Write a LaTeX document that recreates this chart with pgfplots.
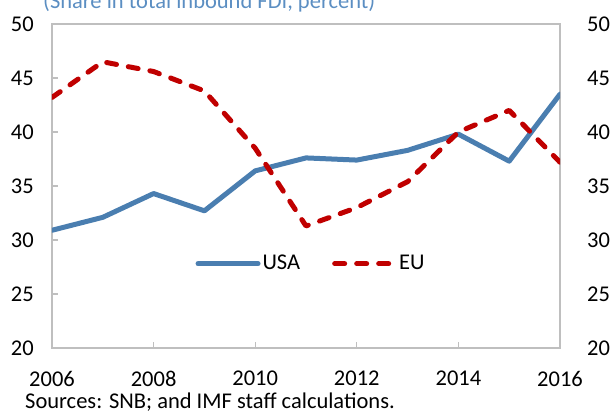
\documentclass[border=0pt]{standalone}
\usepackage{fontspec}
\setmainfont{Carlito}
\usepackage{pgfplots}
\pgfplotsset{compat=1.18}
\definecolor{usab}{HTML}{4A7EB0}
\definecolor{eur}{HTML}{C00000}
\definecolor{axg}{HTML}{BFBFBF}
\definecolor{ttl}{HTML}{5B8EC2}
\newcommand{\fs}{\fontsize{22.5pt}{27pt}\selectfont}
\begin{document}
\fs
\begin{tikzpicture}[x=1pt,y=1pt]
\useasboundingbox (-52,-66) rectangle (559,348);
\begin{axis}[
  scale only axis, width=508pt, height=324pt,
  xmin=2006, xmax=2016, ymin=20, ymax=50,
  xtick={2006,2008,...,2016}, ytick={20,25,...,50},
  tick pos=left, tick align=inside, major tick length=6pt,
  axis line style={axg, line width=1.5pt},
  every tick/.style={axg, line width=1.2pt},
  /pgf/number format/1000 sep={},
  /pgf/number format/assume math mode=true,
  ticklabel style={font=\fs, text=black},
  yticklabel style={anchor=east, inner sep=0pt, xshift=-18pt},
  xticklabel style={anchor=north, inner sep=0pt, yshift=-23pt},
  legend style={at={(0.51,0.26)}, anchor=center, draw=none, fill=none,
    font=\fs, legend columns=2,
    /tikz/every even column/.append style={column sep=30pt}},
  legend image code/.code={\draw[#1] (0pt,0pt) -- (60pt,0pt);},
]
\addplot[usab, line width=5pt, line cap=round, line join=round] coordinates {
(2006,30.9) (2007,32.1) (2008,34.3) (2009,32.7) (2010,36.4) (2011,37.6)
(2012,37.4) (2013,38.3) (2014,39.8) (2015,37.3) (2016,43.5)};
\addlegendentry{USA}
\addplot[eur, line width=5pt, line cap=round, line join=round, dash pattern=on 10pt off 12pt] coordinates {
(2006,43.2) (2007,46.5) (2008,45.6) (2009,43.8) (2010,38.5) (2011,31.3)
(2012,33.0) (2013,35.4) (2014,40.0) (2015,42.0) (2016,37.2)};
\addlegendentry{EU}
\end{axis}
\begin{axis}[
  scale only axis, width=508pt, height=324pt,
  xmin=2006, xmax=2016, ymin=20, ymax=50,
  hide x axis, axis y line*=right, ytick={20,25,...,50},
  y axis line style={draw=none}, major tick length=0pt,
  /pgf/number format/assume math mode=true,
  yticklabel style={font=\fs, text=black, anchor=west, inner sep=0pt, xshift=27pt},
]
\end{axis}
\node[anchor=base west, inner sep=0pt, text=ttl] at (-9,339) {(Share in total inbound FDI, percent)};
\node[anchor=base west, inner sep=0pt] at (-27,-61) {Sources: SNB; and IMF staff calculations.};
\end{tikzpicture}
\end{document}
